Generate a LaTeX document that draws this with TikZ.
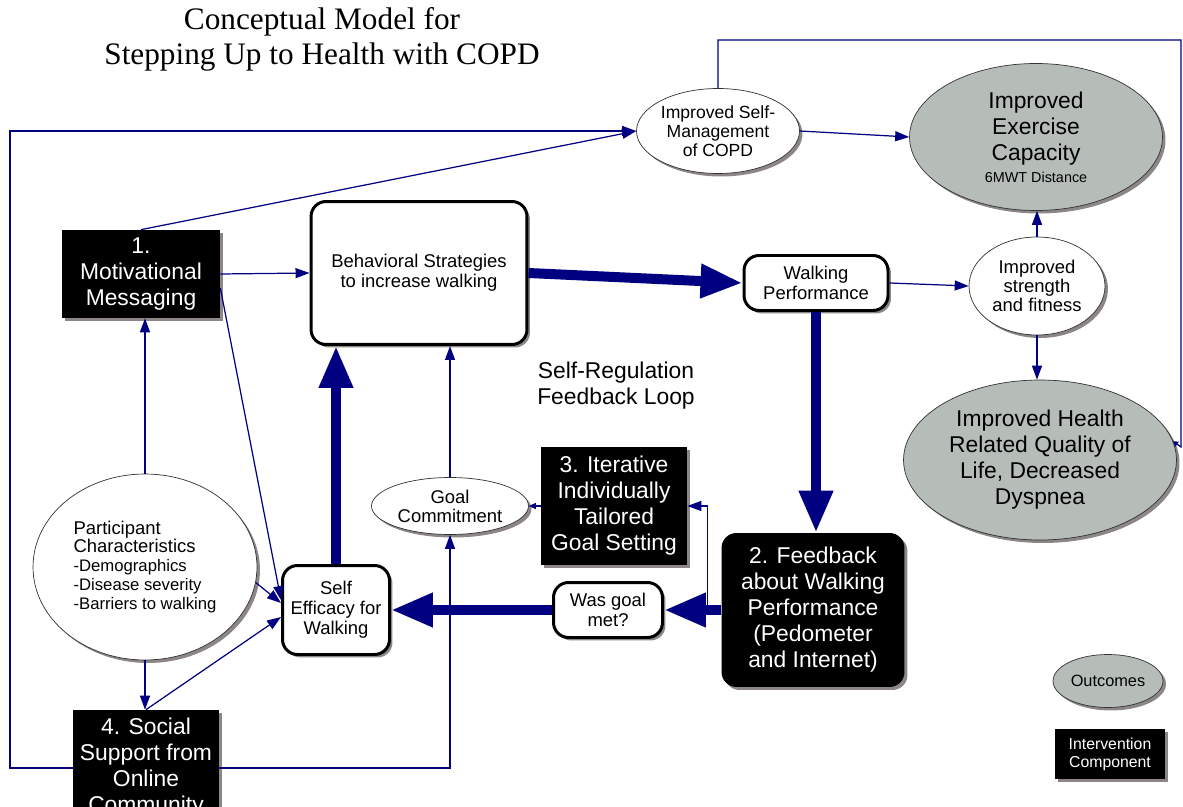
\documentclass[tikz,border=0pt]{standalone}
\usepackage{fontspec}
\setmainfont{Liberation Sans}
\newfontfamily\titlefont{Liberation Serif}
\usepackage{tikz}
\usetikzlibrary{arrows.meta,shapes.geometric,shadows}

\definecolor{arrblue}{RGB}{0,0,128}
\definecolor{outgray}{RGB}{182,189,185}
\definecolor{shadgray}{RGB}{140,134,134}

\newcommand{\listtxt}{\fontsize{9.5}{10.2}\selectfont}

\tikzset{
  shad/.style={drop shadow={shadow xshift=0.06cm,shadow yshift=-0.06cm,fill=shadgray,opacity=1}},
  blackbox/.style={rectangle,fill=black,text=white,align=center,shad,inner sep=1pt,
    font=\fontsize{13}{14.8}\selectfont},
  whitebox/.style={rectangle,rounded corners=0.3cm,draw,line width=1.7pt,fill=white,
    align=center,shad,inner sep=1pt,font=\fontsize{10.5}{11.4}\selectfont},
  whiteell/.style={ellipse,draw=black!80,thin,fill=white,align=center,shad,inner sep=0pt,
    font=\fontsize{10.5}{10.8}\selectfont},
  grayell/.style={ellipse,draw=black!80,thin,fill=outgray,align=center,shad,inner sep=0pt,
    font=\fontsize{13}{14.8}\selectfont},
  thinarrow/.style={draw=arrblue,line width=0.7pt,-{Triangle[length=0.28cm,width=0.2cm]}},
  thickarrow/.style={draw=arrblue,line width=0.2cm,-{Triangle[length=0.84cm,width=0.64cm]}}
}

\begin{document}
\begin{tikzpicture}[x=0.02cm,y=-0.02cm]
\useasboundingbox (0,0) rectangle (1183,807);

\node (title) at (322,39) [align=center,font=\titlefont\fontsize{17.8}{19.8}\selectfont]
  {Conceptual Model for\\Stepping Up to Health with COPD};

\node (mm) at (141,274) [blackbox,minimum width=3.16cm,minimum height=1.76cm] {1.\\Motivational\\Messaging};
\node (bs) at (419,273) [whitebox,minimum width=4.32cm,minimum height=2.86cm] {Behavioral Strategies\\to increase walking};
\node (wp) at (816,283) [whitebox,minimum width=2.88cm,minimum height=1.1cm] {Walking\\Performance};
\node (isf) at (1037,286) [whiteell,minimum width=2.72cm,minimum height=1.96cm] {Improved\\strength\\and fitness};
\node (iec) at (1036,137) [grayell,minimum width=5.06cm,minimum height=2.94cm]
  {Improved\\Exercise\\Capacity\\[-0.08cm]{\fontsize{8.2}{9}\selectfont 6MWT Distance}};
\node (ism) at (718,131) [whiteell,minimum width=3.26cm,minimum height=1.7cm,font=\fontsize{10}{10.8}\selectfont]
  {Improved Self-\\Management\\of COPD};
\node (ihq) at (1040,460) [grayell,minimum width=5.46cm,minimum height=3.2cm]
  {Improved Health\\Related Quality of\\Life, Decreased\\Dyspnea};
\node (srl) at (616,386) [align=center,font=\fontsize{13}{14.8}\selectfont] {Self-Regulation\\Feedback Loop};
\node (igs) at (614,506) [blackbox,minimum width=2.92cm,minimum height=2.36cm]
  {3. Iterative\\Individually\\Tailored\\Goal Setting};
\node (gc) at (450,506) [whiteell,minimum width=3.14cm,minimum height=1.14cm] {Goal\\Commitment};
\node (fb) at (813,610) [blackbox,rounded corners=0.3cm,minimum width=3.66cm,minimum height=3.08cm]
  {2. Feedback\\about Walking\\Performance\\(Pedometer\\and Internet)};
\node (wgm) at (608,610) [whitebox,minimum width=2.18cm,minimum height=1.1cm] {Was goal\\met?};
\node (se) at (336,610) [whitebox,minimum width=2.14cm,minimum height=1.78cm] {Self\\Efficacy for\\Walking};
\node (pc) at (145,567) [whiteell,align=left,minimum width=4.48cm,minimum height=3.72cm]
  {Participant\\Characteristics\\\listtxt -Demographics\\\listtxt -Disease severity\\\listtxt -Barriers to walking};
\node (ss) at (146,768) [blackbox,minimum width=2.92cm,minimum height=2.32cm]
  {4. Social\\Support from\\Online\\Community};
\node (outc) at (1108,681) [grayell,minimum width=2.2cm,minimum height=1.06cm,font=\fontsize{9.3}{10}\selectfont] {Outcomes};
\node (icomp) at (1110,754) [blackbox,minimum width=2.2cm,minimum height=1cm,font=\fontsize{9}{10.2}\selectfont]
  {Intervention\\Component};

\draw [thickarrow] (bs.east) -- (wp.west);
\draw [thickarrow] (wp.south) -- (wp.south |- fb.north);
\draw [thickarrow] (fb.west) -- (wgm.east);
\draw [thickarrow] (wgm.west) -- (se.east);
\draw [thickarrow] (se.north) -- (se.north |- bs.south);

\draw [thinarrow] (mm.east) -- (bs.west);
\draw [thinarrow] (mm.north) -- (ism.west);
\draw [thinarrow] (ss.west) -| (10,131) -- (ism.west);
\draw [thinarrow] (ss.east) -| (gc.south);
\draw [thinarrow,-{Triangle[length=0.1cm,width=0.12cm]}] (ism.north) |- (1181,40) -- (1181,447) -- (ihq.8);
\draw [thinarrow] (ism.east) -- (iec.west);
\draw [thinarrow] (wp.east) -- (isf.west);
\draw [thinarrow] (isf.north) -- (isf.north |- iec.south);
\draw [thinarrow] (isf.south) -- (isf.south |- ihq.north);
\draw [thinarrow] (gc.north) -- (gc.north |- bs.south);
\draw [thinarrow,-{Triangle[length=0.14cm,width=0.12cm]}] (igs.west) -- (gc.east);
\draw [thinarrow] ([xshift=-0.28cm]fb.west) |- (igs.east);
\draw [thinarrow] (pc.north) -- (pc.north |- mm.south);
\draw [thinarrow] (pc.south) -- (pc.south |- ss.north);
\draw [thinarrow] ([yshift=-0.28cm]mm.east) -- ([yshift=0.2cm]se.west);
\draw [thinarrow] (pc.-8) -- ([yshift=0.14cm]se.west);
\draw [thinarrow] (ss.north) -- ([yshift=-0.14cm]se.west);
\end{tikzpicture}
\end{document}
